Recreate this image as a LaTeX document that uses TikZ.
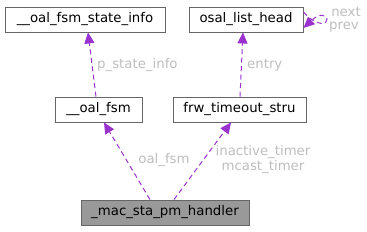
\documentclass[tikz,border=0pt]{standalone}
\usepackage{fontspec}
\setmainfont{DejaVu Sans}
\usetikzlibrary{arrows.meta,calc}
\definecolor{edgec}{HTML}{9A32CD}
\definecolor{labc}{HTML}{BEBEBE}
\definecolor{boxc}{HTML}{666666}
\begin{document}
\begin{tikzpicture}[x=1pt,y=-1pt,
  cls/.style={draw=boxc,line width=0.9pt,fill=white,inner sep=0pt,minimum height=25pt,font=\fontsize{13.3}{15}\selectfont},
  hl/.style={cls,fill=black!40},
  dep/.style={draw=edgec,line width=1pt,dash pattern=on 5pt off 3.5pt,-{Triangle[length=11pt,width=10pt,fill=edgec]}},
  lab/.style={text=labc,font=\fontsize{13.3}{15}\selectfont,inner sep=0pt}]
\useasboundingbox (0,0) rectangle (367,231);
\node[cls,minimum width=160pt] (A) at (85,19.5) {\_\_oal\_fsm\_state\_info};
\node[cls,minimum width=114pt] (B) at (246,19.5) {osal\_list\_head};
\node[cls,minimum width=87pt] (C) at (98.5,109.5) {\_\_oal\_fsm};
\node[cls,minimum width=133pt] (D) at (239.5,109.5) {frw\_timeout\_stru};
\node[hl,minimum width=168pt] (E) at (165,212.5) {\_mac\_sta\_pm\_handler};
\draw[dep] ([xshift=-2.5pt]C.north) -- ([xshift=3pt]A.south);
\draw[dep] ([xshift=0.5pt]D.north) -- ([xshift=-3pt]B.south);
\draw[dep] ([xshift=-15pt]E.north) -- ([xshift=5.5pt]C.south);
\draw[dep] ([xshift=9pt]E.north) -- ([xshift=-8.5pt]D.south);
\draw[dep] ([yshift=7.5pt]B.east) .. controls (318,28) and (328,24) .. (327,19) .. controls (326,15) and (320,12.5) .. ([yshift=-8.5pt]B.east);
\node[lab,anchor=west] (l1) at (97,65) {p\_state\_info};
\node[lab,anchor=west] (l2) at (247,65) {entry};
\node[lab] (l3) at (164,160) {oal\_fsm};
\node[lab,align=center] (l4) at (263,160) {inactive\_timer\\mcast\_timer};
\node[lab] (l5) at (346,12) {next};
\node[lab] (l6) at (344,27) {prev};
\end{tikzpicture}
\end{document}
